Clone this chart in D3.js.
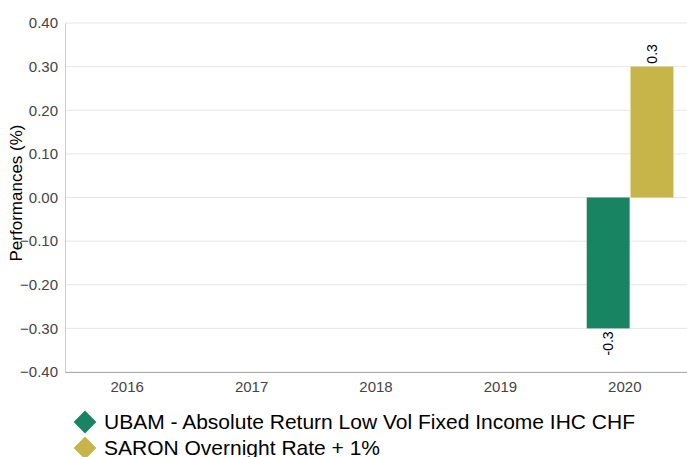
<!DOCTYPE html>
<html>
<head>
<meta charset="utf-8">
<script src="https://cdn.jsdelivr.net/npm/d3@7"></script>
<style>
  body { margin: 0; background: #fff; }
  text { font-family: "Liberation Sans", Arial, sans-serif; }
</style>
</head>
<body>
<script>
// chart data
let years = ["2016", "2017", "2018", "2019", "2020"];
let fundValues = [null, null, null, null, -0.3];
let benchValues = [null, null, null, null, 0.3];
let seriesNames = ["UBAM - Absolute Return Low Vol Fixed Income IHC CHF", "SARON Overnight Rate + 1%"];
let seriesColors = ["#188462", "#c8b549"];
let yTicks = [-0.4, -0.3, -0.2, -0.1, 0, 0.1, 0.2, 0.3, 0.4];

let margin = null, width = null, height = null;
let svg = null, root = null;
let x, xSub, y = null;

setupCanvasSize();
appendSvg("body");
setupScales();
appendGrid();
appendChartBars();
appendAxes();
appendLegend();

function setupCanvasSize() {
  margin = {top: 23, left: 65, bottom: 85, right: 0};
  width = 687 - margin.left - margin.right;
  height = 457 - margin.top - margin.bottom;
}

function appendSvg(domElement) {
  root = d3.select(domElement).append("svg")
    .attr("width", 687)
    .attr("height", 457);
  svg = root.append("g")
    .attr("transform", `translate(${margin.left}, ${margin.top})`);
}

function setupScales() {
  x = d3.scaleBand().range([0, width]).domain(years);
  xSub = d3.scaleBand().domain([0, 1]).range([0, x.bandwidth()])
    .paddingInner(0.02).paddingOuter(0.43).align(0.64);
  y = d3.scaleLinear().domain([-0.4, 0.4]).range([height, 0]);
}

function appendGrid() {
  svg.append("g").selectAll("line")
    .data(yTicks)
    .enter().append("line")
    .attr("x1", 0).attr("x2", width)
    .attr("y1", d => y(d)).attr("y2", d => y(d))
    .attr("stroke", "#e6e6e6");
}

function appendChartBars() {
  let all = [fundValues, benchValues];
  all.forEach(function(vals, s) {
    let data = years.map((yr, i) => ({year: yr, v: vals[i]})).filter(d => d.v != null);
    let g = svg.append("g");
    g.selectAll("rect").data(data).enter().append("rect")
      .attr("x", d => x(d.year) + xSub(s))
      .attr("width", xSub.bandwidth())
      .attr("y", d => y(Math.max(0, d.v)))
      .attr("height", d => Math.abs(y(d.v) - y(0)))
      .attr("fill", seriesColors[s]);
    g.selectAll("text").data(data).enter().append("text")
      .attr("transform", function(d) {
        let cx = x(d.year) + xSub(s) + xSub.bandwidth() / 2;
        let cy = d.v >= 0 ? y(d.v) - 3 : y(d.v) + 3;
        return `translate(${cx + 5}, ${cy}) rotate(-90)`;
      })
      .attr("text-anchor", d => d.v >= 0 ? "start" : "end")
      .attr("font-size", "14px")
      .attr("fill", "#000")
      .text(d => d.v);
  });
}

function appendAxes() {
  let xa = svg.append("g")
    .attr("transform", `translate(0, ${height})`)
    .call(d3.axisBottom(x).tickSize(0).tickPadding(9));
  xa.select(".domain").attr("stroke", "#aaaaaa");
  xa.selectAll("text").attr("font-size", "15px").attr("fill", "#444")
    .attr("font-family", "Liberation Sans, Arial, sans-serif");

  let ya = svg.append("g")
    .call(d3.axisLeft(y).tickValues(yTicks).tickSize(0).tickPadding(7).tickFormat(d3.format(".2f")));
  ya.select(".domain").attr("stroke", "#cccccc");
  ya.selectAll("text").attr("font-size", "15px").attr("fill", "#444")
    .attr("font-family", "Liberation Sans, Arial, sans-serif");

  root.append("text")
    .attr("transform", `translate(22, 193) rotate(-90)`)
    .attr("text-anchor", "middle")
    .attr("font-size", "17px")
    .attr("fill", "#000")
    .text("Performances (%)");
}

function appendLegend() {
  let legend = root.selectAll(".legend")
    .data(seriesNames)
    .enter().append("g")
    .attr("class", "legend")
    .attr("transform", (d, i) => `translate(85, ${422 + i * 26})`);
  legend.append("path")
    .attr("d", d3.symbol().type(d3.symbolDiamond2).size(330))
    .attr("fill", (d, i) => seriesColors[i]);
  legend.append("text")
    .attr("x", 19)
    .attr("dy", "0.35em")
    .attr("font-size", "21px")
    .attr("fill", "#000")
    .text(d => d);
}
</script>
</body>
</html>
